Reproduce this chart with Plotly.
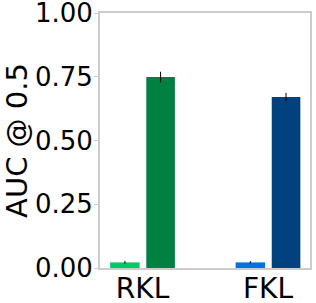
import plotly.graph_objects as go

categories = ["RKL", "FKL"]
light_values = [0.022, 0.022]
light_errors = [0.006, 0.005]
dark_values = [0.749, 0.671]
dark_errors = [0.021, 0.016]
light_colors = ["#00c864", "#0073e0"]
dark_colors = ["#008043", "#00417e"]
yticks = [0.0, 0.25, 0.5, 0.75, 1.0]
ytick_labels = ["0.00", "0.25", "0.50", "0.75", "1.00"]

xpos = list(range(len(categories)))
FONT = "'DejaVu Sans', 'Bitstream Vera Sans', Verdana, sans-serif"

fig = go.Figure()
fig.add_trace(go.Bar(
    x=xpos, y=light_values, width=0.235, offset=-0.258,
    marker=dict(color=light_colors, line=dict(width=0)),
    error_y=dict(type="data", array=light_errors, color="black", thickness=1, width=0),
    showlegend=False,
))
fig.add_trace(go.Bar(
    x=xpos, y=dark_values, width=0.228, offset=0.030,
    marker=dict(color=dark_colors, line=dict(width=0)),
    error_y=dict(type="data", array=dark_errors, color="black", thickness=1, width=0),
    showlegend=False,
))

fig.update_layout(
    width=316, height=303,
    margin=dict(l=100, r=6, t=13, b=35, autoexpand=False),
    paper_bgcolor="white", plot_bgcolor="white",
    font=dict(family=FONT, size=26, color="black"),
    barmode="overlay",
)
fig.update_xaxes(
    range=[-0.339, 1.335], tickvals=xpos, ticktext=categories,
    showgrid=False, zeroline=False, showline=True, linecolor="#cccccc",
    linewidth=2, mirror=True, ticks="", ticklen=0,
    tickfont=dict(family=FONT, size=28), ticklabelstandoff=-6,
    automargin=False, ticklabeloverflow="allow",
)
fig.update_yaxes(
    range=[0, 1.0005], tickvals=yticks, ticktext=ytick_labels,
    showgrid=False, zeroline=False, showline=True, linecolor="#cccccc",
    linewidth=2, mirror=True, ticks="outside", ticklen=4, tickcolor="#cccccc",
    tickfont=dict(family=FONT, size=26), automargin=False,
    ticklabeloverflow="allow", ticklabelstandoff=-4,
    title=dict(text="AUC @ 0.5", font=dict(family=FONT, size=29), standoff=6),
)
fig.write_html(
    "out.html",
    config={"displayModeBar": False},
    post_script="document.body.style.margin='0';document.body.style.overflow='hidden';",
)
